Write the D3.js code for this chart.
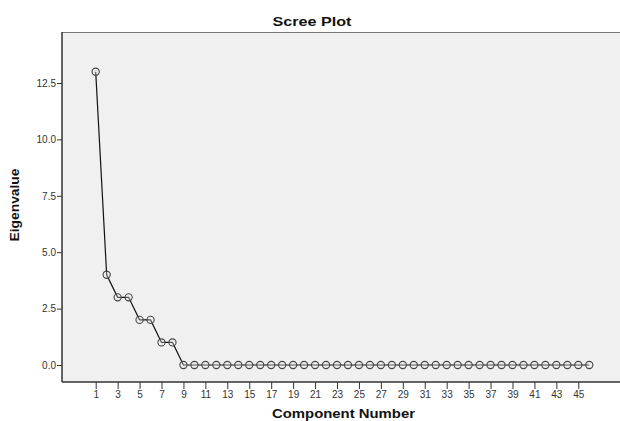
<!DOCTYPE html>
<html><head><meta charset="utf-8">
<script src="https://cdn.jsdelivr.net/npm/d3@7"></script>
<style>
body{margin:0;background:#fff;}
text{font-family:"Liberation Sans",Arial,sans-serif;}
</style></head>
<body>
<svg id="chart" width="620" height="421"></svg>
<script>
const components = d3.range(1, 47);
const eigenvalues = [13, 4, 3, 3, 2, 2, 1, 1, 0, 0, 0, 0, 0, 0, 0, 0, 0, 0, 0, 0, 0, 0, 0, 0, 0, 0, 0, 0, 0, 0, 0, 0, 0, 0, 0, 0, 0, 0, 0, 0, 0, 0, 0, 0, 0, 0];
const xTicks = d3.range(1, 46, 2);
const yTicks = [0, 2.5, 5, 7.5, 10, 12.5];
const title = "Scree Plot";
const xTitle = "Component Number";
const yTitle = "Eigenvalue";

const svg = d3.select("#chart");
const L = 62, R = 620, T = 32, B = 382;
const x = d3.scaleLinear().domain([1, 45]).range([95.7, 578.3]);
const y = d3.scaleLinear().domain([0, 12.5]).range([365, 83]);

svg.append("rect").attr("x", L).attr("y", T).attr("width", R - L).attr("height", B - T).attr("fill", "#f0f0f0");
svg.append("line").attr("x1", L).attr("x2", R).attr("y1", T + 0.5).attr("y2", T + 0.5).attr("stroke", "#777").attr("stroke-width", 1.2);

// y axis
const yAxis = d3.axisLeft(y).tickValues(yTicks).tickFormat(d3.format(".1f")).tickSize(5).tickSizeOuter(0);
const gy = svg.append("g").attr("transform", `translate(${L},0)`).call(yAxis);
gy.select(".domain").remove();
gy.append("line").attr("x1", 0).attr("x2", 0).attr("y1", T).attr("y2", B).attr("stroke", "#333").attr("stroke-width", 1.5);
gy.selectAll(".tick line").attr("stroke", "#333");
gy.selectAll(".tick text").attr("font-size", 10).attr("fill", "#333").attr("x", -6).attr("font-family", "Liberation Sans, Arial, sans-serif");

// x axis
const xAxis = d3.axisBottom(x).tickValues(xTicks).tickFormat(d3.format("d")).tickSize(7).tickSizeOuter(0);
const gx = svg.append("g").attr("transform", `translate(0,${B})`).call(xAxis);
gx.select(".domain").remove();
gx.append("line").attr("x1", L).attr("x2", R).attr("y1", 0).attr("y2", 0).attr("stroke", "#333").attr("stroke-width", 1.5);
gx.selectAll(".tick line").attr("stroke", "#333");
gx.selectAll(".tick text").attr("font-size", 10).attr("fill", "#333").attr("y", 9).attr("font-family", "Liberation Sans, Arial, sans-serif");

// line
const data = components.map((c, i) => ({c, v: eigenvalues[i]}));
svg.append("path").datum(data)
  .attr("d", d3.line().x(d => x(d.c)).y(d => y(d.v)))
  .attr("fill", "none").attr("stroke", "#111").attr("stroke-width", 1.2);
svg.selectAll("circle.pt").data(data).join("circle").attr("class", "pt")
  .attr("cx", d => x(d.c)).attr("cy", d => y(d.v)).attr("r", 3.6)
  .attr("fill", "#f0f0f0").attr("fill-opacity", 0.3).attr("stroke", "#444").attr("stroke-width", 1.1);

// titles
svg.append("text").attr("x", 312).attr("y", 26).attr("text-anchor", "middle")
  .attr("font-size", 13.5).attr("font-weight", "bold").attr("fill", "#111")
  .attr("textLength", 79).attr("lengthAdjust", "spacingAndGlyphs").text(title);
svg.append("text").attr("x", 343.5).attr("y", 418).attr("text-anchor", "middle")
  .attr("font-size", 13).attr("font-weight", "bold").attr("fill", "#111")
  .attr("textLength", 143).attr("lengthAdjust", "spacingAndGlyphs").text(xTitle);
svg.append("text").attr("transform", "translate(18.5,205) rotate(-90)").attr("text-anchor", "middle")
  .attr("font-size", 12.5).attr("font-weight", "bold").attr("fill", "#111")
  .attr("textLength", 73).attr("lengthAdjust", "spacingAndGlyphs").text(yTitle);
</script>
</body></html>
